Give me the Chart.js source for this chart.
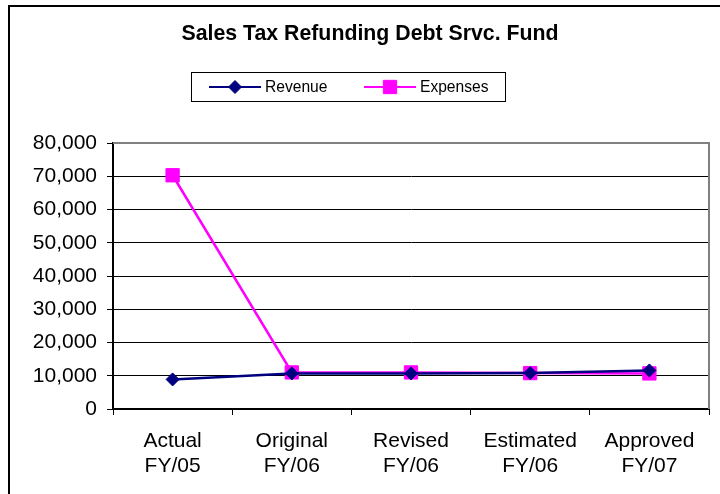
<!DOCTYPE html>
<html>
<head>
<meta charset="utf-8">
<script src="https://cdn.jsdelivr.net/npm/chart.js@4"></script>
<style>
html,body{margin:0;padding:0;background:#fff;}
#wrap{width:720px;height:494px;position:relative;}
</style>
</head>
<body>
<div id="wrap"><canvas id="c" width="720" height="494"></canvas></div>
<script>
const chartTitle = "Sales Tax Refunding Debt Srvc. Fund";
const categories = [["Actual","FY/05"],["Original","FY/06"],["Revised","FY/06"],["Estimated","FY/06"],["Approved","FY/07"]];
const revenueLabel = "Revenue";
const revenueValues = [8900, 10700, 10700, 10800, 11600];
const expensesLabel = "Expenses";
const expensesValues = [70300, 11000, 11000, 10800, 10700];
const yMin = 0, yMax = 80000, yStep = 10000;

const FONT = "Arial, 'Liberation Sans', sans-serif";

const decor = {
  id: 'decor',
  beforeDraw(chart) {
    const ctx = chart.ctx;
    ctx.save();
    ctx.fillStyle = '#fff';
    ctx.fillRect(0, 0, chart.width, chart.height);
    // outer chart border
    ctx.fillStyle = '#000';
    ctx.fillRect(8, 5, chart.width, 2);
    ctx.fillRect(8, 5, 2, chart.height);
    ctx.restore();
  },
  afterDatasetsDraw(chart) {
    const ctx = chart.ctx;
    const a = chart.chartArea;
    ctx.save();
    // plot area border top/right (gray)
    ctx.strokeStyle = '#808080';
    ctx.lineWidth = 2;
    ctx.beginPath();
    ctx.moveTo(a.left, a.top);
    ctx.lineTo(a.right, a.top);
    ctx.lineTo(a.right, a.bottom);
    ctx.stroke();
    ctx.restore();
  },
  afterDraw(chart) {
    const ctx = chart.ctx;
    ctx.save();
    // title
    ctx.fillStyle = '#000';
    ctx.font = "bold 21.3px " + FONT;
    ctx.textAlign = 'center';
    ctx.textBaseline = 'middle';
    ctx.fillText(chartTitle, 370, 34);
    // legend box
    ctx.strokeStyle = '#000';
    ctx.lineWidth = 1;
    ctx.strokeRect(191.5, 72.5, 314, 29);
    const items = chart.data.datasets.map((d, i) => ({ds: d, x0: i === 0 ? 209 : 364}));
    ctx.font = "15.6px " + FONT;
    ctx.textAlign = 'left';
    ctx.textBaseline = 'middle';
    items.forEach(it => {
      const d = it.ds, y = 87;
      ctx.strokeStyle = d.borderColor;
      ctx.lineWidth = 2;
      ctx.beginPath();
      ctx.moveTo(it.x0, y);
      ctx.lineTo(it.x0 + 52, y);
      ctx.stroke();
      ctx.fillStyle = d.pointBackgroundColor;
      ctx.strokeStyle = d.pointBorderColor;
      ctx.lineWidth = 1;
      Chart.helpers.drawPoint(ctx, {pointStyle: d.pointStyle, rotation: 0, borderWidth: 1, radius: d.pointRadius}, it.x0 + 26, y);
      ctx.fillStyle = '#000';
      ctx.fillText(d.label, it.x0 + 56, y + 1);
    });
    ctx.restore();
  }
};

new Chart(document.getElementById('c'), {
  type: 'line',
  data: {
    labels: categories,
    datasets: [
      {
        label: revenueLabel,
        data: revenueValues,
        borderColor: '#000080',
        backgroundColor: '#000080',
        pointBackgroundColor: '#000080',
        pointBorderColor: '#000080',
        borderWidth: 2.5,
        pointStyle: 'rectRot',
        pointRadius: 6.5,
        pointBorderWidth: 1,
        tension: 0
      },
      {
        label: expensesLabel,
        data: expensesValues,
        borderColor: '#FF00FF',
        backgroundColor: '#FF00FF',
        pointBackgroundColor: '#FF00FF',
        pointBorderColor: '#FF00FF',
        borderWidth: 2.5,
        pointStyle: 'rect',
        pointRadius: 9.4,
        pointBorderWidth: 1,
        tension: 0
      }
    ]
  },
  options: {
    responsive: false,
    animation: false,
    devicePixelRatio: 1,
    layout: { padding: { top: 143, right: 11, bottom: 0, left: 0 } },
    plugins: {
      legend: { display: false },
      title: { display: false },
      tooltip: { enabled: false }
    },
    scales: {
      x: {
        offset: true,
        afterFit(s) { s.height = 85; },
        grid: {
          offset: true,
          drawOnChartArea: false,
          drawTicks: true,
          tickLength: 6,
          tickColor: '#000',
          tickWidth: 1
        },
        border: { color: '#000', width: 2 },
        ticks: {
          color: '#000',
          font: { family: FONT, size: 21, lineHeight: 1.22 },
          padding: 13,
          maxRotation: 0,
          autoSkip: false
        }
      },
      y: {
        min: yMin,
        max: yMax,
        afterFit(s) { s.width = 113; },
        grid: {
          color: '#000',
          lineWidth: 1,
          tickLength: 6,
          tickColor: '#000'
        },
        border: { color: '#000', width: 2 },
        ticks: {
          stepSize: yStep,
          color: '#000',
          padding: 10,
          font: { family: FONT, size: 21 },
          callback: v => v.toLocaleString('en-US')
        }
      }
    }
  },
  plugins: [decor]
});
</script>
</body>
</html>
